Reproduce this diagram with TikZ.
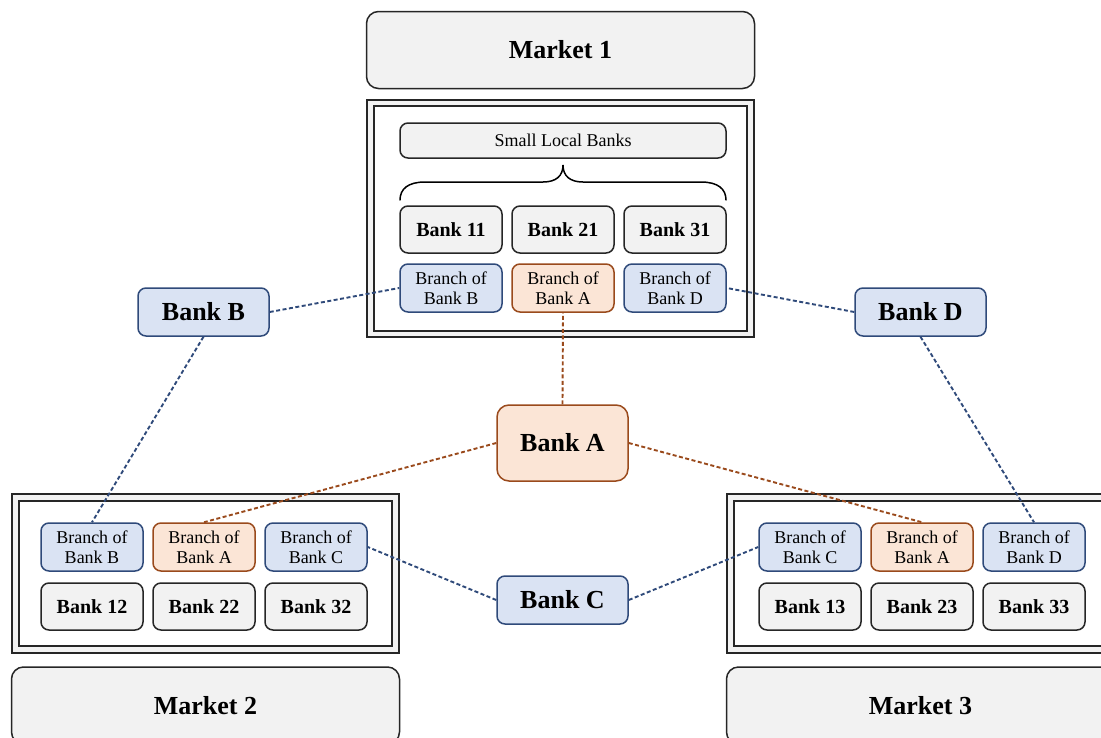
\documentclass[tikz,border=0pt]{standalone}
\usepackage{fontspec}
\setmainfont{Liberation Serif}

\definecolor{boxgray}{HTML}{F2F2F2}
\definecolor{linegray}{HTML}{262626}
\definecolor{bluefill}{HTML}{DAE3F3}
\definecolor{blueline}{HTML}{2F4A7A}
\definecolor{orangefill}{HTML}{FBE5D6}
\definecolor{orangeline}{HTML}{9A4A1C}

\tikzset{
	market/.style={draw=linegray, fill=boxgray, line width=1.5pt, rounded corners=12pt,
		minimum width=388pt, minimum height=77pt, inner sep=0pt,
		font=\fontsize{26}{28}\selectfont\bfseries},
	frame/.style={draw=linegray, line width=1.8pt, double=boxgray, double distance=4.5pt, fill=white},
	localbank/.style={draw=linegray, fill=boxgray, line width=1.5pt, rounded corners=8pt,
		minimum width=102pt, minimum height=47pt, inner sep=0pt,
		font=\fontsize{20}{22}\selectfont\bfseries},
	branchb/.style={draw=blueline, fill=bluefill, line width=1.5pt, rounded corners=8pt,
		minimum width=102pt, minimum height=48pt, inner sep=0pt, align=center,
		font=\fontsize{18}{19.5}\selectfont},
	brancha/.style={branchb, draw=orangeline, fill=orangefill},
	bigbank/.style={draw=blueline, fill=bluefill, line width=1.5pt, rounded corners=8pt,
		minimum width=131pt, minimum height=48pt, inner sep=0pt,
		font=\fontsize{26}{28}\selectfont\bfseries},
	link/.style={draw=blueline, line width=1.9pt, dash pattern=on 4pt off 2.5pt},
	linka/.style={link, draw=orangeline}
}

\begin{document}
\begin{tikzpicture}[x=1pt, y=-1pt]
	\useasboundingbox (0,0) rectangle (1101,737);
	\clip (0,0) rectangle (1101,737);

	% frames round the banks of each market
	\draw[frame] (370.5,103) rectangle (750.5,334);
	\draw[frame] (15.5,497.5) rectangle (395.5,649.5);
	\draw[frame] (730.5,497.5) rectangle (1118,649.5);

	% markets
	\node[market] (m1) at (560.5,50) {Market 1};
	\node[market] (m2) at (205.5,705.5) {Market 2};
	\node[market] (m3) at (920.5,705.5) {Market 3};

	% market 1
	\node[localbank, minimum width=326pt, minimum height=35pt, font=\fontsize{18}{20}\selectfont] (slb) at (563,140.5) {Small Local Banks};
	\draw[line width=1.5pt, line cap=round] (400,200) .. controls (400,189) and (408,182) .. (425,182) -- (543,182)
		.. controls (556,182) and (563,176) .. (563,165) .. controls (563,176) and (570,182) .. (583,182)
		-- (701,182) .. controls (718,182) and (726,189) .. (726,200);
	\node[localbank] (b11) at (451,229.5) {Bank 11};
	\node[localbank] (b21) at (563,229.5) {Bank 21};
	\node[localbank] (b31) at (675,229.5) {Bank 31};
	\node[branchb] (br1b) at (451,288) {Branch of\\Bank B};
	\node[brancha] (br1a) at (563,288) {Branch of\\Bank A};
	\node[branchb] (br1d) at (675,288) {Branch of\\Bank D};

	% market 2
	\node[branchb] (br2b) at (92,547) {Branch of\\Bank B};
	\node[brancha] (br2a) at (204,547) {Branch of\\Bank A};
	\node[branchb] (br2c) at (316,547) {Branch of\\Bank C};
	\node[localbank] (b12) at (92,606.5) {Bank 12};
	\node[localbank] (b22) at (204,606.5) {Bank 22};
	\node[localbank] (b32) at (316,606.5) {Bank 32};

	% market 3
	\node[branchb] (br3c) at (810,547) {Branch of\\Bank C};
	\node[brancha] (br3a) at (922,547) {Branch of\\Bank A};
	\node[branchb] (br3d) at (1034,547) {Branch of\\Bank D};
	\node[localbank] (b13) at (810,606.5) {Bank 13};
	\node[localbank] (b23) at (922,606.5) {Bank 23};
	\node[localbank] (b33) at (1034,606.5) {Bank 33};

	% the four banks
	\node[bigbank] (bankb) at (203.5,312) {Bank B};
	\node[bigbank] (bankd) at (920.5,312) {Bank D};
	\node[bigbank, draw=orangeline, fill=orangefill, minimum height=76pt, rounded corners=12pt] (banka) at (562.5,443) {Bank A};
	\node[bigbank] (bankc) at (562.5,600) {Bank C};

	% links
	\draw[link] (bankb.east) -- (br1b.west);
	\draw[link] (bankb.south) -- (br2b.north);
	\draw[link] (bankd.west) -- (br1d.east);
	\draw[link] (bankd.south) -- (br3d.north);
	\draw[link] (bankc.west) -- (br2c.east);
	\draw[link] (bankc.east) -- (br3c.west);
	\draw[linka] (banka.north) -- (br1a.south);
	\draw[linka] (banka.west) -- (br2a.north);
	\draw[linka] (banka.east) -- (br3a.north);
\end{tikzpicture}
\end{document}
